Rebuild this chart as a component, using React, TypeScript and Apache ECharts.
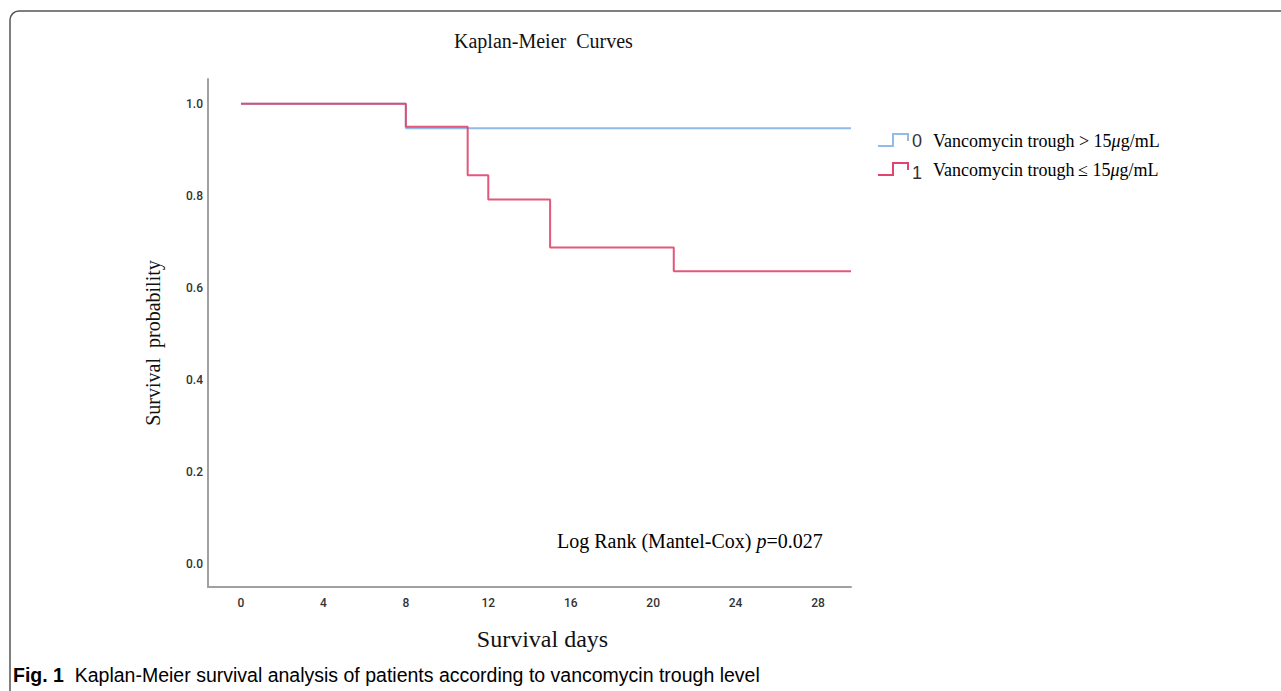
import React, { useEffect, useRef } from "react";
import * as echarts from "echarts";

// ---- data ----
const xTicks = [0, 4, 8, 12, 16, 20, 24, 28];
const yTicks = [0, 0.2, 0.4, 0.6, 0.8, 1.0];
const groupCodes = ["0", "1"];
const groupLabels = ["Vancomycin trough > 15", "Vancomycin trough\u2009\u2264 15"];
const groupUnit = "g/mL";
// Kaplan-Meier step points [day, survival]
const highTrough: [number, number][] = [
  [0, 1.0],
  [8, 0.947],
  [29.6, 0.947],
];
const lowTrough: [number, number][] = [
  [0, 1.0],
  [8, 0.95],
  [11, 0.845],
  [12, 0.792],
  [15, 0.688],
  [21, 0.636],
  [29.6, 0.636],
];
const titleText = "Kaplan-Meier  Curves";
const xName = "Survival days";
const yName = "Survival  probability";
const pValue = "0.027";
const captionBold = "Fig. 1";
const captionText = "Kaplan-Meier survival analysis of patients according to vancomycin trough level";

const SERIF = "'Liberation Serif', 'Times New Roman', serif";
const SANS = "'Liberation Sans', Arial, sans-serif";
const TICKFONT = "Roboto, 'Liberation Sans', sans-serif";
const BLUE = "#93bbe9";
const RED = "#e0456d";

export default function App() {
  const ref = useRef<HTMLDivElement>(null);
  useEffect(() => {
    if (!ref.current) return;
    const chart = echarts.init(ref.current, undefined, { renderer: "svg" });
    const legendRow = (i: number, y: number, color: string, codeDy: number) => [
      {
        type: "polyline",
        shape: {
          points: [
            [878, y + 5],
            [893, y + 5],
            [893, y - 7],
            [908, y - 7],
            [908, y],
          ],
        },
        style: { stroke: color, lineWidth: 2, fill: "none" },
      },
      {
        type: "text",
        x: 912,
        y: y + codeDy,
        style: {
          text: groupCodes[i],
          font: `18px ${SANS}`,
          fill: "#333",
          verticalAlign: "middle",
        },
      },
      {
        type: "text",
        x: 933,
        y: y,
        style: {
          text: `{t|${groupLabels[i]}}{m|\u03bc}{t|${groupUnit}}`,
          verticalAlign: "middle",
          rich: {
            t: { fontFamily: SERIF, fontSize: 18, color: "#111" },
            m: { fontFamily: SERIF, fontSize: 18, fontStyle: "italic", color: "#111" },
          },
        },
      },
    ];
    chart.setOption({
      animation: false,
      backgroundColor: "#fff",
      title: {
        text: titleText,
        left: 449,
        top: 26,
        textStyle: { fontFamily: SERIF, fontSize: 20, fontWeight: "normal", color: "#111" },
      },
      grid: { left: 208, top: 79, width: 643, height: 508 },
      xAxis: {
        type: "value",
        min: -1.6,
        max: 29.6,
        name: xName,
        nameLocation: "middle",
        nameGap: 40,
        nameTextStyle: { fontFamily: SERIF, fontSize: 24, color: "#111", padding: [0, 0, 0, 26] },
        axisLine: { show: true, onZero: false, lineStyle: { color: "#a0a0a0", width: 2 } },
        axisTick: { show: false },
        splitLine: { show: false },
        axisLabel: {
          customValues: xTicks,
          margin: 10,
          fontFamily: TICKFONT,
          fontSize: 12,
          fontWeight: 500,
          color: "#333",
        },
      },
      yAxis: {
        type: "value",
        min: -0.05,
        max: 1.054,
        name: yName,
        nameLocation: "middle",
        nameGap: 45,
        nameTextStyle: { fontFamily: SERIF, fontSize: 20, color: "#111", padding: [0, 20, 0, 0] },
        axisLine: { show: true, onZero: false, lineStyle: { color: "#a0a0a0", width: 2 } },
        axisTick: { show: false },
        splitLine: { show: false },
        axisLabel: {
          customValues: yTicks,
          formatter: (v: number) => v.toFixed(1),
          margin: 5,
          fontFamily: TICKFONT,
          fontSize: 12,
          fontWeight: 500,
          color: "#333",
        },
      },
      series: [
        {
          name: groupCodes[0],
          type: "line",
          step: "end",
          data: highTrough,
          symbol: "none",
          lineStyle: { color: BLUE, width: 2 },
          z: 2,
        },
        {
          name: groupCodes[1],
          type: "line",
          step: "end",
          data: lowTrough,
          symbol: "none",
          lineStyle: { color: RED, width: 2, opacity: 0.9 },
          z: 3,
        },
      ],
      graphic: [
        {
          type: "rect",
          shape: { x: 10, y: 11, width: 1300, height: 720, r: 9 },
          style: { fill: "none", stroke: "#555", lineWidth: 1.5 },
          silent: true,
        },
        ...legendRow(0, 141, BLUE, 0),
        ...legendRow(1, 170, RED, 3),
        {
          type: "text",
          x: 557,
          y: 541,
          style: {
            text: `{t|Log Rank (Mantel-Cox) }{i|p}{t|=${pValue}}`,
            verticalAlign: "middle",
            rich: {
              t: { fontFamily: SERIF, fontSize: 20, color: "#111" },
              i: { fontFamily: SERIF, fontSize: 20, fontStyle: "italic", color: "#111" },
            },
          },
        },
        {
          type: "text",
          x: 13,
          y: 675,
          style: {
            text: `{b|${captionBold}}{t|  ${captionText}}`,
            verticalAlign: "middle",
            rich: {
              b: { fontFamily: SANS, fontSize: 19.5, fontWeight: "bold", color: "#222" },
              t: { fontFamily: SANS, fontSize: 19.5, color: "#222" },
            },
          },
        },
      ],
    });
    return () => chart.dispose();
  }, []);
  return (
    <div
      ref={ref}
      style={{ position: "fixed", left: 0, top: 0, width: 1281, height: 691, background: "#fff" }}
    />
  );
}
